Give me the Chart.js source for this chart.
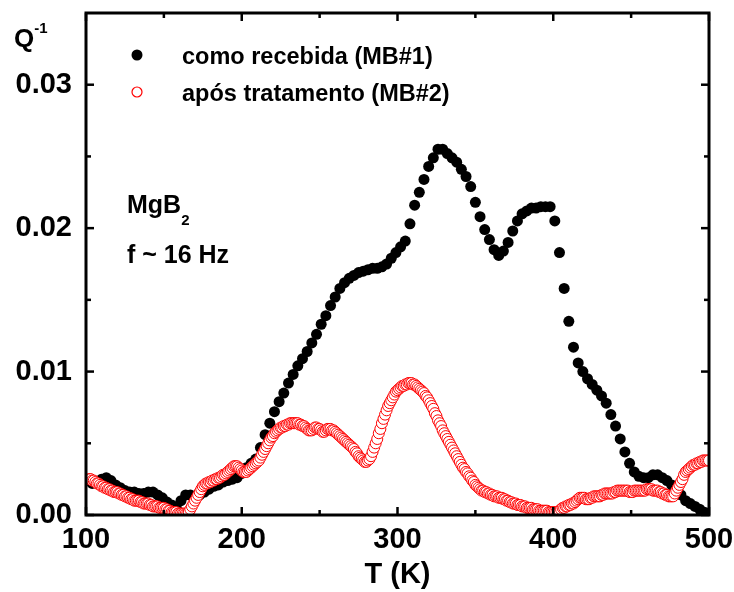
<!DOCTYPE html>
<html>
<head>
<meta charset="utf-8">
<script src="https://cdn.jsdelivr.net/npm/chart.js@4/dist/chart.umd.min.js"></script>
<style>
  html, body { margin: 0; padding: 0; background: #fff; }
  #wrap { width: 734px; height: 592px; }
</style>
</head>
<body>
<div id="wrap"><canvas id="grafico" width="734" height="592"></canvas></div>
<script>
// temperaturas (K) - amostragem das curvas
const tempMB1 = Array.from({length: 133}, (_, i) => 104 + 3 * i);
const tempMB2 = Array.from({length: 399}, (_, i) => 102 + i);

// Q^-1 x 1e-3 (MB#1, de 104 K a 500 K)
const qMB1 = [
  2.2, 2.3, 2.5, 2.6, 2.4, 2.1, 1.9, 1.7, 1.6, 1.6,
  1.5, 1.5, 1.6, 1.6, 1.4, 1.2, 0.9, 0.7, 0.5, 1.0,
  1.4, 1.4, 1.3, 1.4, 1.6, 1.8, 2.0, 2.1, 2.3, 2.4,
  2.5, 2.6, 2.9, 3.3, 3.6, 3.9, 4.7, 5.6, 6.4, 7.2,
  7.9, 8.5, 9.2, 9.8, 10.4, 10.9, 11.4, 12.0, 12.6, 13.3,
  13.9, 14.6, 15.2, 15.8, 16.2, 16.5, 16.7, 16.9, 17.0, 17.1,
  17.2, 17.2, 17.3, 17.5, 17.9, 18.3, 18.7, 19.1, 20.3, 21.6,
  22.5, 23.4, 24.3, 24.9, 25.5, 25.5, 25.2, 24.9, 24.6, 24.1,
  23.6, 22.9, 21.8, 20.8, 19.9, 19.2, 18.5, 18.1, 18.4, 19.0,
  19.8, 20.5, 21.0, 21.2, 21.4, 21.4, 21.5, 21.5, 21.5, 20.5,
  18.3, 15.8, 13.5, 11.7, 10.6, 10.0, 9.5, 9.1, 8.7, 8.3,
  7.8, 7.0, 6.2, 5.3, 4.4, 3.6, 3.0, 2.7, 2.6, 2.6,
  2.8, 2.8, 2.6, 2.4, 2.1, 1.7, 1.4, 1.0, 0.8, 0.6,
  0.4, 0.2, 0.0
];

// Q^-1 x 1e-3 (MB#2, de 102 K a 500 K)
const qMB2 = [
  2.5, 2.5, 2.4, 2.4, 2.3, 2.2, 2.2, 2.1, 2.0, 2.0,
  1.9, 1.9, 1.8, 1.8, 1.7, 1.7, 1.6, 1.6, 1.6, 1.5,
  1.5, 1.4, 1.4, 1.3, 1.3, 1.2, 1.2, 1.1, 1.1, 1.0,
  1.0, 1.0, 1.0, 0.9, 0.9, 0.8, 0.8, 0.8, 0.8, 0.7,
  0.7, 0.6, 0.6, 0.6, 0.6, 0.5, 0.5, 0.5, 0.5, 0.4,
  0.4, 0.3, 0.3, 0.2, 0.2, 0.2, 0.2, 0.1, 0.1, 0.1,
  0.1, 0.1, 0.1, 0.1, 0.2, 0.4, 0.6, 0.8, 1.0, 1.2,
  1.4, 1.6, 1.8, 2.0, 2.1, 2.2, 2.2, 2.3, 2.3, 2.4,
  2.4, 2.5, 2.5, 2.6, 2.6, 2.7, 2.8, 2.8, 2.9, 3.0,
  3.1, 3.2, 3.3, 3.4, 3.4, 3.4, 3.3, 3.2, 3.1, 3.0,
  3.0, 3.0, 3.1, 3.2, 3.3, 3.4, 3.5, 3.6, 3.7, 3.8,
  4.0, 4.2, 4.4, 4.6, 4.8, 5.0, 5.2, 5.4, 5.5, 5.7,
  5.8, 5.9, 6.0, 6.1, 6.1, 6.2, 6.2, 6.3, 6.3, 6.4,
  6.4, 6.4, 6.4, 6.4, 6.4, 6.3, 6.3, 6.2, 6.2, 6.1,
  6.0, 5.9, 5.9, 5.9, 6.0, 6.1, 6.1, 6.0, 6.0, 5.9,
  5.8, 5.8, 5.9, 6.0, 6.0, 6.0, 5.9, 5.9, 5.8, 5.7,
  5.6, 5.5, 5.4, 5.3, 5.2, 5.1, 5.0, 4.9, 4.8, 4.7,
  4.6, 4.4, 4.3, 4.1, 4.0, 3.9, 3.8, 3.7, 3.7, 3.8,
  3.9, 4.1, 4.4, 4.7, 5.0, 5.3, 5.7, 6.0, 6.4, 6.7,
  7.0, 7.3, 7.6, 7.8, 8.0, 8.2, 8.4, 8.6, 8.7, 8.8,
  8.9, 9.0, 9.0, 9.1, 9.1, 9.2, 9.2, 9.2, 9.1, 9.1,
  9.0, 8.9, 8.8, 8.7, 8.6, 8.5, 8.3, 8.2, 8.0, 7.8,
  7.6, 7.4, 7.1, 6.9, 6.6, 6.4, 6.2, 5.9, 5.7, 5.5,
  5.3, 5.1, 4.9, 4.7, 4.5, 4.3, 4.1, 3.9, 3.7, 3.5,
  3.3, 3.2, 3.0, 2.9, 2.7, 2.6, 2.4, 2.3, 2.1, 2.0,
  1.9, 1.8, 1.7, 1.7, 1.6, 1.6, 1.5, 1.5, 1.4, 1.4,
  1.3, 1.3, 1.3, 1.2, 1.2, 1.2, 1.1, 1.1, 1.0, 1.0,
  0.9, 0.9, 0.8, 0.8, 0.8, 0.7, 0.7, 0.7, 0.6, 0.6,
  0.6, 0.5, 0.5, 0.5, 0.5, 0.4, 0.4, 0.4, 0.4, 0.3,
  0.3, 0.3, 0.3, 0.3, 0.3, 0.2, 0.2, 0.2, 0.2, 0.2,
  0.2, 0.2, 0.3, 0.4, 0.5, 0.5, 0.6, 0.6, 0.7, 0.7,
  0.8, 0.8, 0.9, 1.0, 1.1, 1.2, 1.2, 1.2, 1.2, 1.1,
  1.1, 1.1, 1.2, 1.2, 1.3, 1.3, 1.3, 1.3, 1.3, 1.4,
  1.4, 1.5, 1.5, 1.5, 1.5, 1.5, 1.5, 1.6, 1.6, 1.7,
  1.7, 1.7, 1.7, 1.7, 1.7, 1.7, 1.7, 1.6, 1.6, 1.6,
  1.7, 1.7, 1.7, 1.7, 1.7, 1.7, 1.7, 1.7, 1.8, 1.8,
  1.8, 1.8, 1.7, 1.7, 1.7, 1.7, 1.6, 1.6, 1.5, 1.5,
  1.4, 1.4, 1.3, 1.3, 1.3, 1.3, 1.5, 1.7, 1.9, 2.1,
  2.3, 2.5, 2.8, 3.0, 3.1, 3.2, 3.3, 3.4, 3.5, 3.5,
  3.6, 3.6, 3.7, 3.7, 3.8, 3.8, 3.8, 3.8, 3.8
];

const xMajor = [100, 200, 300, 400, 500];
const xMinor = [150, 250, 350, 450];
const yMajor = [0, 0.01, 0.02, 0.03];
const yMinor = [0.005, 0.015, 0.025];

const legendas = ['como recebida (MB#1)', 'após tratamento (MB#2)'];

const toPts = (ts, qs) => ts.map((t, i) => ({x: t, y: qs[i] / 1000}));

const fonte = '"Liberation Sans", Arial, sans-serif';

// moldura com ticks para dentro nos quatro lados + textos
const moldura = {
  id: 'moldura',
  afterDraw(chart) {
    const {ctx, chartArea: a, scales: {x, y}} = chart;
    ctx.save();
    ctx.strokeStyle = '#000';
    ctx.lineWidth = 2.5;
    const linha = (x1, y1, x2, y2) => { ctx.beginPath(); ctx.moveTo(x1, y1); ctx.lineTo(x2, y2); ctx.stroke(); };
    xMajor.forEach(v => { const p = x.getPixelForValue(v); linha(p, a.bottom, p, a.bottom - 8); linha(p, a.top, p, a.top + 8); });
    xMinor.forEach(v => { const p = x.getPixelForValue(v); linha(p, a.bottom, p, a.bottom - 5); linha(p, a.top, p, a.top + 5); });
    yMajor.forEach(v => { const p = y.getPixelForValue(v); linha(a.left, p, a.left + 8, p); linha(a.right, p, a.right - 8, p); });
    yMinor.forEach(v => { const p = y.getPixelForValue(v); linha(a.left, p, a.left + 5, p); linha(a.right, p, a.right - 5, p); });
    ctx.lineWidth = 3;
    ctx.strokeRect(a.left, a.top, a.right - a.left, a.bottom - a.top);

    ctx.fillStyle = '#000';
    ctx.textBaseline = 'alphabetic';
    ctx.textAlign = 'left';

    // legenda
    ctx.beginPath(); ctx.arc(137, 55, 5.5, 0, Math.PI * 2); ctx.fill();
    ctx.beginPath(); ctx.arc(137, 92, 5, 0, Math.PI * 2);
    ctx.fillStyle = '#fff'; ctx.fill();
    ctx.strokeStyle = '#ff0000'; ctx.lineWidth = 1.2; ctx.stroke();
    ctx.fillStyle = '#000';
    ctx.font = 'bold 23.5px ' + fonte;
    ctx.fillText(legendas[0], 182, 64);
    ctx.fillText(legendas[1], 182, 101);

    // anotacoes
    ctx.font = 'bold 25px ' + fonte;
    ctx.fillText('MgB', 127, 213);
    const w = ctx.measureText('MgB').width;
    ctx.font = 'bold 15px ' + fonte;
    ctx.fillText('2', 127 + w, 225);
    ctx.font = 'bold 25px ' + fonte;
    ctx.fillText('f ~ 16 Hz', 127, 263);

    // rotulo do eixo y
    ctx.font = 'bold 26px ' + fonte;
    ctx.fillText('Q', 14, 47);
    const wq = ctx.measureText('Q').width;
    ctx.font = 'bold 15px ' + fonte;
    ctx.fillText('-1', 14 + wq, 33);
    ctx.restore();
  }
};

const ctx = document.getElementById('grafico').getContext('2d');
new Chart(ctx, {
  type: 'scatter',
  data: {
    datasets: [
      {
        label: legendas[0],
        data: toPts(tempMB1, qMB1),
        pointStyle: 'circle',
        pointRadius: 5.5,
        pointBackgroundColor: '#000',
        pointBorderColor: '#000',
        pointBorderWidth: 0,
        order: 2,
        clip: 0
      },
      {
        label: legendas[1],
        data: toPts(tempMB2, qMB2),
        pointStyle: 'circle',
        pointRadius: 5.5,
        pointBackgroundColor: '#fff',
        pointBorderColor: '#ff0000',
        pointBorderWidth: 1,
        order: 1,
        clip: 0
      }
    ]
  },
  options: {
    responsive: false,
    animation: false,
    events: [],
    layout: { padding: { top: 13, right: 25, left: 0, bottom: 0 } },
    plugins: { legend: { display: false }, tooltip: { enabled: false } },
    scales: {
      x: {
        type: 'linear',
        min: 100,
        max: 500,
        grid: { display: false, drawTicks: false },
        border: { display: false },
        title: {
          display: true,
          text: 'T (K)',
          color: '#000',
          font: { family: fonte, size: 29, weight: 'bold' },
          padding: { top: 0, bottom: 0 }
        },
        ticks: {
          stepSize: 100,
          includeBounds: false,
          padding: 8,
          color: '#000',
          font: { family: fonte, size: 29, weight: 'bold' },
          maxRotation: 0
        },
        afterFit(s) { s.height = 77; s.paddingLeft = 0; s.paddingRight = 0; }
      },
      y: {
        type: 'linear',
        min: 0,
        max: 0.035,
        grid: { display: false, drawTicks: false },
        border: { display: false },
        ticks: {
          stepSize: 0.01,
          includeBounds: false,
          padding: 14,
          color: '#000',
          font: { family: fonte, size: 29, weight: 'bold' },
          callback: v => v.toFixed(2)
        },
        afterFit(s) { s.width = 86; s.paddingTop = 0; s.paddingBottom = 0; }
      }
    }
  },
  plugins: [moldura]
});
</script>
</body>
</html>
